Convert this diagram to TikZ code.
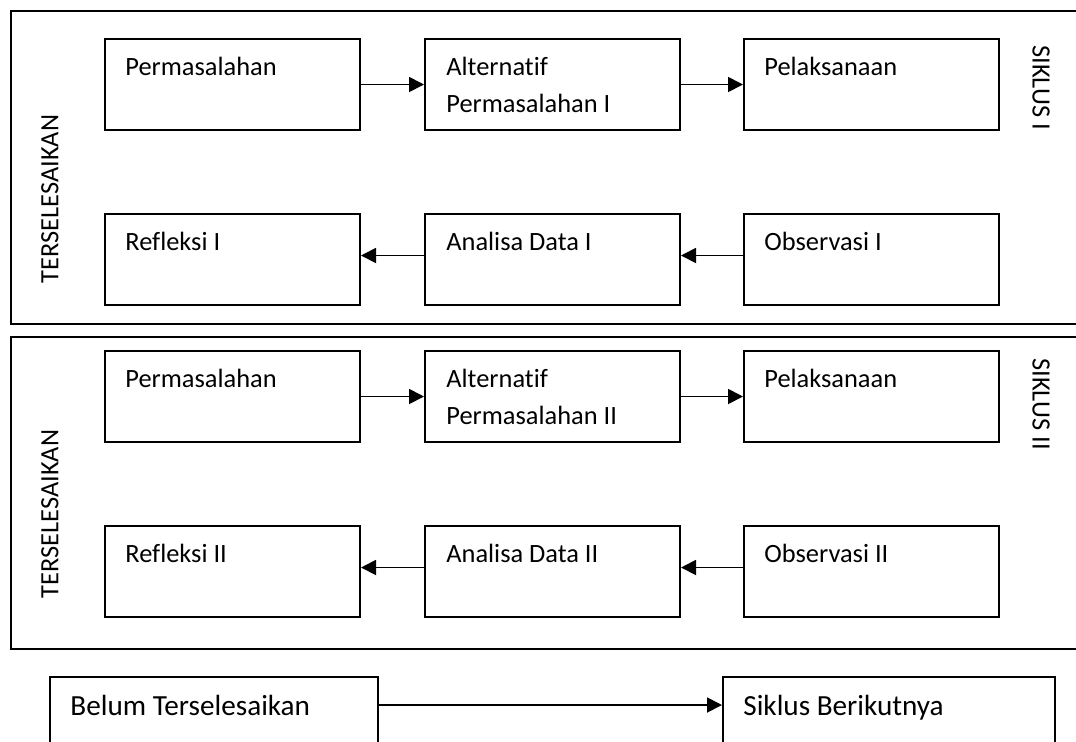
\documentclass[tikz,border=0pt]{standalone}
\usepackage{fontspec}
\setmainfont[Ligatures=NoCommon]{Carlito}
\usetikzlibrary{arrows.meta,calc}
\begin{document}
\begin{tikzpicture}[x=0.5pt,y=-0.5pt,
  box/.style={draw, line width=1pt, minimum width=127.5pt, minimum height=45.5pt, inner sep=0pt, anchor=north west},
  wbox/.style={box, minimum width=#1},
  txt/.style={anchor=base west, inner sep=0pt, font=\fontsize{13.2}{16}\selectfont},
  bigtxt/.style={txt, font=\fontsize{14.6}{18}\selectfont},
  vtxt/.style={inner sep=0pt, font=\fontsize{13.2}{16}\selectfont},
  arr/.style={line width=0.9pt, -{Triangle[length=7.5pt,width=7.5pt]}},
  frame/.style={line width=1pt}]
\useasboundingbox (0,0) rectangle (1076,741);
\clip (0,0) rectangle (1076,741);
% frames
\draw[frame] (1090,11) -- (11,11) -- (11,324) -- (1090,324);
\draw[frame] (1090,337) -- (11,337) -- (11,649) -- (1090,649);
% cycle I
\node[box] (p1) at (104,38) {};
\node[box] (a1) at (424,38) {};
\node[box] (l1) at (743,38) {};
\node[box] (r1) at (104,213) {};
\node[box] (d1) at (424,213) {};
\node[box] (o1) at (743,213) {};
\node[txt] (tp1) at ($(p1.north west)+(21,37)$) {Permasalahan};
\node[txt] (ta1) at ($(a1.north west)+(22,37)$) {Alternatif};
\node[txt] (tb1) at ($(a1.north west)+(22,74)$) {Permasalahan I};
\node[txt] (tl1) at ($(l1.north west)+(21,37)$) {Pelaksanaan};
\node[txt] (tr1) at ($(r1.north west)+(21,37)$) {Refleksi I};
\node[txt] (td1) at ($(d1.north west)+(22,37)$) {Analisa Data I};
\node[txt] (to1) at ($(o1.north west)+(21,37)$) {Observasi I};
\draw[arr] (p1.east) -- (a1.west);
\draw[arr] (a1.east) -- (l1.west);
\draw[arr] ([yshift=2pt]o1.west) -- ([yshift=2pt]d1.east);
\draw[arr] ([yshift=2pt]d1.west) -- ([yshift=2pt]r1.east);
\node[vtxt, rotate=90] (ts1) at (50,199) {TERSELESAIKAN};
\node[vtxt, rotate=-90, anchor=west] (sk1) at (1041,45) {SIKLUS I};
% cycle II
\node[box] (p2) at (104,350) {};
\node[box] (a2) at (424,350) {};
\node[box] (l2) at (743,350) {};
\node[box] (r2) at (104,525) {};
\node[box] (d2) at (424,525) {};
\node[box] (o2) at (743,525) {};
\node[txt] (tp2) at ($(p2.north west)+(21,37)$) {Permasalahan};
\node[txt] (ta2) at ($(a2.north west)+(22,37)$) {Alternatif};
\node[txt] (tb2) at ($(a2.north west)+(22,74)$) {Permasalahan II};
\node[txt] (tl2) at ($(l2.north west)+(21,37)$) {Pelaksanaan};
\node[txt] (tr2) at ($(r2.north west)+(21,37)$) {Refleksi II};
\node[txt] (td2) at ($(d2.north west)+(22,37)$) {Analisa Data II};
\node[txt] (to2) at ($(o2.north west)+(21,37)$) {Observasi II};
\draw[arr] (p2.east) -- (a2.west);
\draw[arr] (a2.east) -- (l2.west);
\draw[arr] ([yshift=2pt]o2.west) -- ([yshift=2pt]d2.east);
\draw[arr] ([yshift=2pt]d2.west) -- ([yshift=2pt]r2.east);
\node[vtxt, rotate=90] (ts2) at (50,514) {TERSELESAIKAN};
\node[vtxt, rotate=-90, anchor=west] (sk2) at (1041,358) {SIKLUS II};
% bottom
\node[wbox=164pt] (bt) at (49,676) {};
\node[wbox=166pt] (sb) at (722,676) {};
\node[bigtxt] (tbt) at ($(bt.north west)+(21,39)$) {Belum Terselesaikan};
\node[bigtxt] (tsb) at ($(sb.north west)+(21,39)$) {Siklus Berikutnya};
\coordinate (bta) at ($(bt.north east)+(0,29)$);
\coordinate (sba) at ($(sb.north west)+(0,29)$);
\draw[arr] (bta) -- (sba);
\end{tikzpicture}
\end{document}
